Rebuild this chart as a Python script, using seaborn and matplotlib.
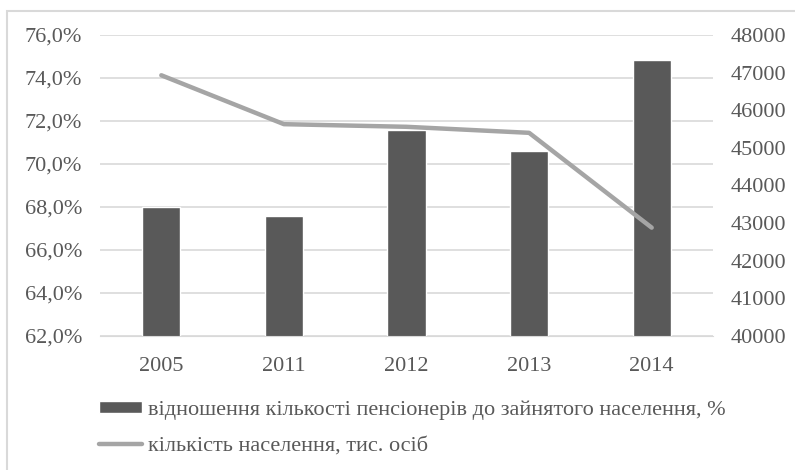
"""
Pensioners ratio vs population, two axes
"""

import seaborn as sns
import pandas as pd
import numpy as np
import matplotlib.pyplot as plt
from matplotlib.patches import Rectangle

years = ['2005', '2011', '2012', '2013', '2014']
ratio = [68.0, 67.6, 71.6, 70.6, 74.85]
population = [46930, 45630, 45560, 45400, 42880]

bar_label = 'відношення кількості пенсіонерів до зайнятого населення, %'
line_label = 'кількість населення, тис. осіб'

bar_color = '#595959'
line_color = '#a5a5a5'
grid_color = '#d9d9d9'
text_color = '#595959'

sns.set_style('white')
plt.rcParams['font.family'] = ['Liberation Serif', 'DejaVu Serif']
plt.rcParams['font.size'] = 16

df = pd.DataFrame({'year': years, 'ratio': ratio, 'population': population})

fig = plt.figure(figsize=(7.95, 4.70), dpi=100)
ax = fig.add_axes([100 / 795, 1 - 336 / 470, 613 / 795, 301 / 470])

sns.barplot(data=df, x='year', y='ratio', color=bar_color, width=0.31,
            saturation=1, ax=ax, label=bar_label)
ax.set_ylim(62, 76)
ax.set_yticks(np.arange(62, 76.1, 2))
ax.set_yticklabels([f'{v:.1f}%'.replace('.', ',') for v in np.arange(62, 76.1, 2)])
ax.set_xlim(-0.5, 4.5)
ax.set_xlabel('')
ax.set_ylabel('')
ax.yaxis.grid(True, color=grid_color, linewidth=1.2)
ax.set_axisbelow(True)
for s in ax.spines.values():
    s.set_visible(False)
ax.spines['bottom'].set_visible(True)
ax.spines['bottom'].set_color(grid_color)
ax.tick_params(axis='both', length=0, colors=text_color)
ax.tick_params(axis='y', pad=13)
ax.tick_params(axis='x', pad=15)

ax2 = ax.twinx()
sns.lineplot(data=df, x='year', y='population', color=line_color, linewidth=3.2,
             sort=False, ax=ax2, label=line_label, legend=False)
ax2.set_ylim(40000, 48000)
ax2.set_yticks(np.arange(40000, 48001, 1000))
ax2.set_ylabel('')
for s in ax2.spines.values():
    s.set_visible(False)
ax2.tick_params(axis='y', length=0, colors=text_color, pad=13)

h1, l1 = ax.get_legend_handles_labels()
h2, l2 = ax2.get_legend_handles_labels()
if ax.get_legend():
    ax.get_legend().remove()
fig.legend(h1 + h2, l1 + l2, loc='upper left', bbox_to_anchor=(88 / 795, 1 - 389 / 470),
           frameon=False, handlelength=1.95, handleheight=0.45, handletextpad=0.25,
           labelspacing=0.78, borderpad=0, labelcolor=text_color, fontsize=16)

# outer chart border (only top and left visible in crop)
fig.patches.append(Rectangle((7 / 795, -0.1), 1.2, 1 - 11 / 470 + 0.1, transform=fig.transFigure,
                             fill=False, edgecolor=grid_color, linewidth=1.5))

fig.savefig('out.png', dpi=100)
